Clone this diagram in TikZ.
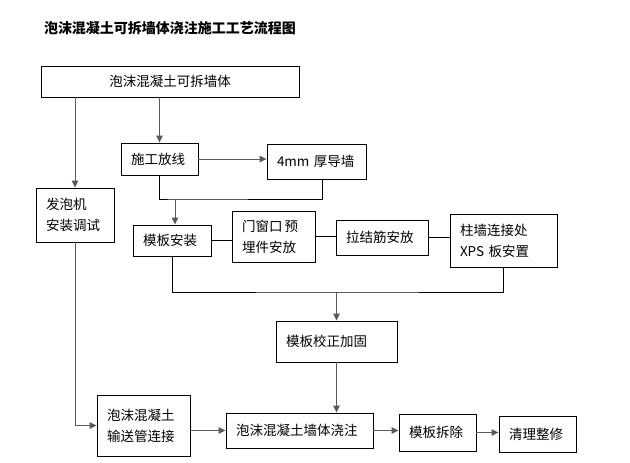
\documentclass[tikz,border=0pt]{standalone}
\usepackage{fontspec}
\setmainfont{Noto Sans CJK SC}
\usetikzlibrary{arrows.meta}

\tikzset{
  stepbox/.style={draw,line width=0.9pt,inner xsep=10pt,inner ysep=0pt,align=left,
    font=\fontsize{13.5}{21}\selectfont},
  link/.style={line width=0.9pt},
  flow/.style={line width=0.9pt,draw=black!65,-{Triangle[length=7pt,width=6.5pt]}}
}

\begin{document}
\begin{tikzpicture}[x=1pt,y=-1pt]
 \useasboundingbox (0,0) rectangle (630,463);
 \node[font=\fontsize{14}{16}\bfseries\selectfont] (title) at (170,28) {泡沫混凝土可拆墙体浇注施工工艺流程图};

 \node[stepbox,align=center,minimum width=258pt,minimum height=31pt] (qiangti) at (170,81.5) {泡沫混凝土可拆墙体};
 \node[stepbox,text width=57pt,minimum height=32pt] (fangxian) at (159.5,159) {施工放线};
 \node[stepbox,text width=79pt,minimum height=35pt] (daoqiang) at (316.5,161.5) {4mm 厚导墙};
 \node[stepbox,text width=58pt,minimum height=54pt] (fapaoji) at (75,215) {发泡机\\安装调试};
 \node[stepbox,text width=58pt,minimum height=31pt] (muban) at (172,240.5) {模板安装};
 \node[stepbox,text width=63pt,minimum height=51pt] (maijian) at (273.5,236.5) {门窗口\,预\\埋件安放};
 \node[stepbox,text width=72pt,minimum height=35pt] (lajiejin) at (382,237.5) {拉结筋安放};
 \node[stepbox,text width=87pt,minimum height=53pt] (xpsban) at (503.5,240.5) {柱墙连接处\\XPS 板安置};
 \node[stepbox,text width=101pt,minimum height=41pt] (jiaozheng) at (336.5,341.5) {模板校正加固};
 \node[stepbox,text width=73pt,minimum height=61pt] (shusong) at (143.5,425.5) {泡沫混凝土\\输送管连接};
 \node[stepbox,text width=127pt,minimum height=35pt] (jiaozhu) at (299.5,430.5) {泡沫混凝土墙体浇注};
 \node[stepbox,text width=57pt,minimum height=37pt] (chaichu) at (437.5,432.5) {模板拆除};
 \node[stepbox,text width=57pt,minimum height=36pt] (zhengxiu) at (537.5,434) {清理整修};

 \coordinate (hui1) at (175,199);
 \coordinate (hui2) at (336.5,292);

 \draw[flow] (qiangti.south -| fapaoji.north) -- (fapaoji.north);
 \draw[flow] (qiangti.south -| fangxian.north) -- (fangxian.north);
 \draw[flow] (fangxian.east) -- (fangxian.east -| daoqiang.west);
 \draw[link] (fangxian.south) |- (hui1) -| ([xshift=6pt]daoqiang.south);
 \draw[flow] (hui1) -- (hui1 |- muban.north);
 \draw[link] (muban.east) -- (muban.east -| maijian.west);
 \draw[link] (maijian.east) -- (maijian.east -| lajiejin.west);
 \draw[link] (lajiejin.east) -- (lajiejin.east -| xpsban.west);
 \draw[link] (muban.south) |- (hui2) -| (xpsban.south);
 \draw[flow] (hui2) -- (jiaozheng.north);
 \draw[flow] (jiaozheng.south) -- (jiaozheng.south |- jiaozhu.north);
 \draw[flow] (fapaoji.south) |- (shusong.west);
 \draw[flow] (jiaozhu.west -| shusong.east) -- (jiaozhu.west);
 \draw[flow] (jiaozhu.east) -- (jiaozhu.east -| chaichu.west);
 \draw[flow] (chaichu.east) -- (chaichu.east -| zhengxiu.west);
\end{tikzpicture}
\end{document}
